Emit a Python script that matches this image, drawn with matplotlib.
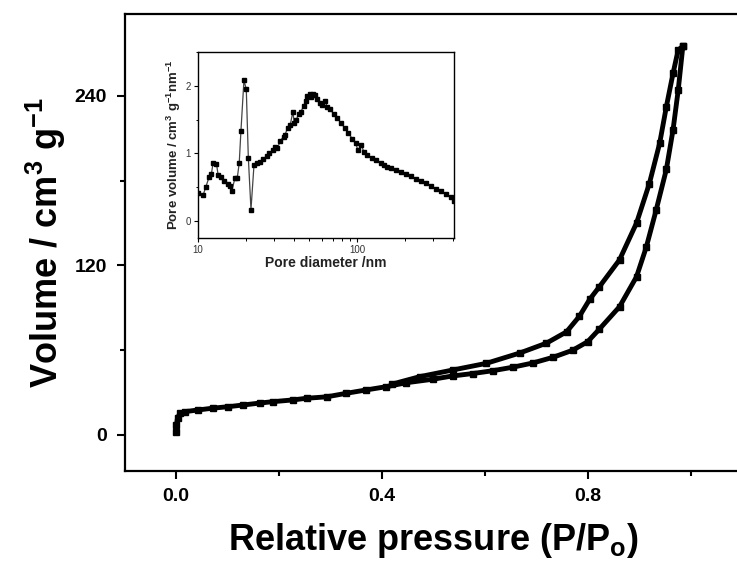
import matplotlib
matplotlib.use('Agg')
from matplotlib import pyplot as plt
from matplotlib.ticker import MultipleLocator, LogLocator, NullFormatter, FixedLocator

plt.rcParams['font.family'] = ['Liberation Sans', 'DejaVu Sans']
plt.rcParams['mathtext.default'] = 'regular'

# adsorption branch (P/Po, volume)
ads_p = [0.0, 0.001, 0.003, 0.008, 0.017, 0.043, 0.072, 0.101, 0.13, 0.163, 0.189,
         0.227, 0.254, 0.293, 0.331, 0.37, 0.409, 0.448, 0.50, 0.538, 0.577, 0.616,
         0.655, 0.694, 0.733, 0.771, 0.80, 0.823, 0.862, 0.895, 0.914, 0.933, 0.953,
         0.966, 0.976, 0.985]
ads_v = [2, 7, 12, 15.5, 16.5, 17.7, 19, 20, 21.2, 22.6, 23.6,
         24.8, 26, 27, 29.5, 31.9, 34.2, 37.0, 39.5, 41.8, 43.5, 45.5,
         48, 51, 55, 60, 66, 75, 90.8, 112, 133, 159, 188,
         216, 244, 275]

# desorption branch
des_p = [0.985, 0.976, 0.966, 0.953, 0.94, 0.92, 0.895, 0.862, 0.823, 0.804,
         0.784, 0.759, 0.72, 0.668, 0.603, 0.538, 0.474, 0.42]
des_v = [275, 272.6, 256, 232.4, 206.5, 178, 150, 124, 105, 96,
         84, 73, 65, 58, 50.7, 46, 41.3, 36]

# inset: pore size distribution
pore_d = [10.0, 10.75, 11.18, 11.74, 12.14, 12.44, 13.06, 13.38, 14.04, 14.53,
          15.47, 15.85, 16.32, 17.04, 17.63, 18.15, 18.60, 19.43, 20.10, 20.70,
          21.51, 22.47, 23.36, 24.51, 25.73, 27.02, 27.95, 29.48, 30.50, 31.55,
          32.80, 34.43, 35.27, 36.49, 37.93, 39.43, 40.20, 41.39, 42.82, 44.30,
          46.05, 47.41, 48.34, 50.24, 51.23, 52.74, 54.29, 55.90, 58.10, 60.11,
          63.10, 64.65, 67.87, 71.25, 74.79, 79.23, 83.18, 87.75, 92.99, 97.6,
          101.0, 106.0, 110.2, 115.7, 124.4, 130.6, 140.4, 147.4, 154.7, 162.4,
          174.7, 187.8, 202.0, 217.2, 233.6, 251.2, 270.1, 290.5, 312.4, 336.0,
          361.3, 388.5, 404.0]
pore_v = [0.41, 0.38, 0.50, 0.65, 0.70, 0.86, 0.85, 0.68, 0.65, 0.60,
          0.55, 0.52, 0.45, 0.63, 0.63, 0.86, 1.33, 2.08, 1.95, 0.94,
          0.17, 0.83, 0.86, 0.88, 0.92, 0.96, 1.00, 1.05, 1.10, 1.08,
          1.18, 1.25, 1.28, 1.38, 1.42, 1.62, 1.45, 1.50, 1.58, 1.62,
          1.70, 1.78, 1.85, 1.88, 1.84, 1.88, 1.87, 1.80, 1.75, 1.72,
          1.78, 1.68, 1.65, 1.58, 1.52, 1.45, 1.38, 1.30, 1.22, 1.15,
          1.05, 1.12, 1.02, 0.98, 0.93, 0.90, 0.86, 0.83, 0.80, 0.78,
          0.75, 0.72, 0.69, 0.66, 0.62, 0.59, 0.56, 0.52, 0.48, 0.44,
          0.40, 0.35, 0.30]

W, H = 737, 567
fig = plt.figure(figsize=(W / 100, H / 100), dpi=100)

# main axes, right edge lies just outside the picture
ax = fig.add_axes([124.5 / W, 96 / H, 617.5 / W, 457 / H])
ax.plot(ads_p, ads_v, '-s', color='black', lw=3.5, ms=5)
ax.plot(des_p, des_v, '-s', color='black', lw=3.5, ms=5)
ax.set_xlim(-0.1, 1.1)
ax.set_ylim(-25.5, 298)
ax.xaxis.set_major_locator(MultipleLocator(0.4))
ax.xaxis.set_minor_locator(MultipleLocator(0.2))
ax.yaxis.set_major_locator(MultipleLocator(120))
ax.yaxis.set_minor_locator(MultipleLocator(60))
ax.tick_params(which='major', direction='out', length=5.5, width=1.5, pad=7,
               labelsize=14)
ax.tick_params(which='minor', direction='out', length=3.5, width=1.5)
for lab in ax.get_xticklabels() + ax.get_yticklabels():
    lab.set_fontweight('bold')
ax.xaxis.set_major_formatter(plt.FuncFormatter(lambda v, p: '%.1f' % v))
for s in ax.spines.values():
    s.set_linewidth(1.6)
ax.set_xlabel('Relative pressure (P/P$_o$)', fontsize=26, fontweight='bold', labelpad=11)
ax.set_ylabel('Volume / cm$^3$ g$^{-1}$', fontsize=26, fontweight='bold', labelpad=5)

# inset
ins = fig.add_axes([198 / W, 329 / H, 256 / W, 186 / H])
ins.plot(pore_d, pore_v, '-s', color='#444444', lw=0.9, ms=2.5,
         mfc='black', mec='black')
ins.set_xscale('log')
ins.set_xlim(10, 405)
ins.set_ylim(-0.25, 2.5)
ins.xaxis.set_major_locator(FixedLocator([10, 100]))
ins.xaxis.set_minor_locator(LogLocator(base=10, subs=range(2, 10)))
ins.xaxis.set_minor_formatter(NullFormatter())
ins.xaxis.set_major_formatter(plt.FuncFormatter(lambda v, p: '%d' % v))
ins.yaxis.set_major_locator(MultipleLocator(1))
ins.yaxis.set_minor_locator(MultipleLocator(0.5))
ins.tick_params(which='major', direction='out', length=3, width=0.8, pad=2,
                labelsize=7, labelcolor='#333333')
ins.tick_params(which='minor', direction='out', length=1.8, width=0.7)
for s in ins.spines.values():
    s.set_linewidth(1.0)
ins.set_xlabel('Pore diameter /nm', fontsize=10, fontweight='bold',
               color='#222222', labelpad=1)
ins.set_ylabel('Pore volume / cm$^3$ g$^{-1}$nm$^{-1}$', fontsize=9.5,
               fontweight='bold', color='#222222', labelpad=2)

fig.savefig('out.png', dpi=100)
